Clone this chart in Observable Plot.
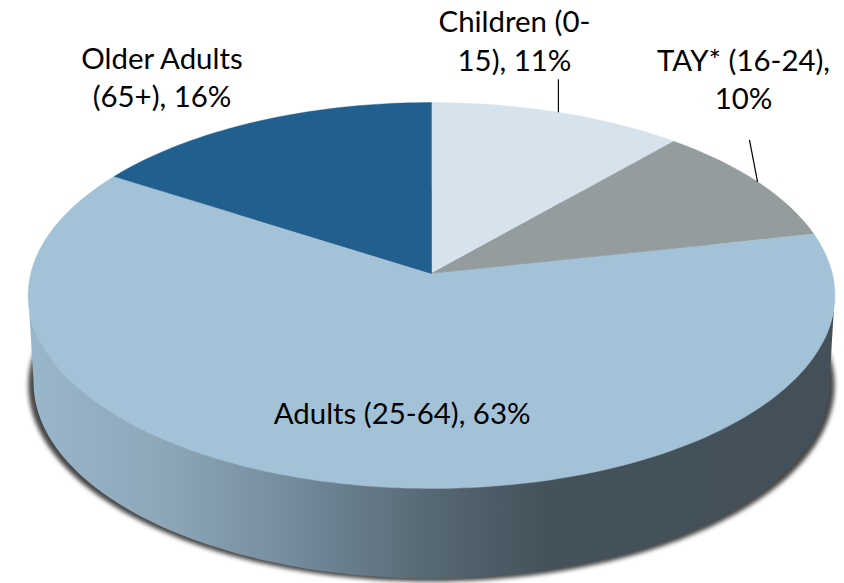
<!DOCTYPE html>
<html>
<head>
<meta charset="utf-8">
<style>html,body{margin:0;padding:0;background:#fff;overflow:hidden}svg{display:block}</style>
<script src="https://cdn.jsdelivr.net/npm/d3@7"></script>
<script src="https://cdn.jsdelivr.net/npm/@observablehq/plot@0.6"></script>
</head>
<body>
<div id="chart"></div>
<script>
// Data, clockwise from 12 o'clock
const categories = ["Children (0-15)", "TAY* (16-24)", "Adults (25-64)", "Older Adults (65+)"];
const shares = [11.4, 10.2, 62.5, 15.9];
const labelLines = ["Children (0-\n15), {}%", "TAY* (16-24),\n{}%", "Adults (25-64), {}%", "Older Adults\n(65+), {}%"];
const sliceColors = ["#d7e3ec", "#959c9e", "#a4c2d7", "#215f8f"];

// Label placement relative to each slice's mid-rim point (px)
const labelDx = [-44, -14, 51, -95];
const labelDy = [-73, -104, -73, -46];
// Leader lines (chart units from the mid-rim point; 0 = no leader)
const leaderDx = [0, -0.02, 0, 0];
const leaderDy = [0.0817, 0.104, 0, 0];

// Tilted-disc projection, in units of the disc's half width
const persp = 0.114, xScale = 0.992, yScale = 0.4715;
const project = (angle) => {
  const u = Math.sin(angle), v = Math.cos(angle), w = 1 + persp * v;
  return {x: xScale * u / w, y: yScale * v / w};
};
const turn = (pct) => pct / 100 * 2 * Math.PI;

let running = 0;
const slices = categories.map((category, i) => {
  const start = running, end = running + shares[i];
  running = end;
  return {category, i, start, end, mid: (start + end) / 2};
});

const slicePoints = slices.flatMap((s) => {
  const n = Math.max(2, Math.ceil((s.end - s.start) * 3));
  const rim = d3.range(n + 1).map((k) => project(turn(s.start + (s.end - s.start) * k / n)));
  return [{x: 0, y: 0}, ...rim, {x: 0, y: 0}].map((p) => ({...p, category: s.category}));
});

const midRim = slices.map((s) => ({...project(turn(s.mid)), i: s.i}));

// Cylinder wall: lower half of the top rim and of the base rim
const topCy = -0.0545, topRy = 0.4777;
const baseCy = -0.2698, baseRy = 0.4851, baseRx = 0.985;
const halfArc = (rx, cy, ry, reverse) => {
  const ts = d3.range(0, 121).map((k) => Math.PI + k / 120 * Math.PI);
  const pts = ts.map((t) => ({x: rx * Math.cos(t), y: cy + ry * Math.sin(t)}));
  return reverse ? pts.reverse() : pts;
};
const wall = [...halfArc(0.998, topCy, topRy, false), ...halfArc(baseRx, baseCy, baseRy, true)];
const shadow = d3.range(0, 181).map((k) => {
  const t = k / 180 * 2 * Math.PI;
  return {x: 0.998 * Math.cos(t), y: -0.2765 + 0.486 * Math.sin(t)};
});

const pxPerUnit = 404, cxPx = 431, cyPx = 273, W = 844, H = 583;

const gradient = () => {
  const defs = d3.create("svg:defs");
  const g = defs.append("linearGradient").attr("id", "wallGrad")
    .attr("x1", 0).attr("x2", 1).attr("y1", 0).attr("y2", 0);
  [[0, "#9ab6ca"], [0.16, "#8ea8ba"], [0.34, "#72899a"], [0.5, "#566873"], [0.64, "#44525b"], [1, "#43505a"]]
    .forEach(([o, c]) => g.append("stop").attr("offset", o).attr("stop-color", c));
  return defs.node();
};

const chart = Plot.plot({
  width: W,
  height: H,
  margin: 0,
  style: {background: "#fff"},
  x: {domain: [-cxPx / pxPerUnit, (W - cxPx) / pxPerUnit], range: [0, W], axis: null},
  y: {domain: [-(H - cyPx) / pxPerUnit, cyPx / pxPerUnit], range: [H, 0], axis: null},
  color: {domain: categories, range: sliceColors},
  marks: [
    gradient,
    Plot.line(shadow, {x: "x", y: "y", fill: "#333", fillOpacity: 0.9, stroke: "none", imageFilter: "blur(2.2px)"}),
    Plot.line(wall, {x: "x", y: "y", fill: "url(#wallGrad)", stroke: "none"}),
    Plot.line(slicePoints, {x: "x", y: "y", z: "category", fill: "category", stroke: "category", strokeWidth: 0.4}),
    Plot.link(midRim.filter((d) => leaderDy[d.i] > 0), {
      x1: "x", y1: "y",
      x2: (d) => d.x + leaderDx[d.i],
      y2: (d) => d.y + leaderDy[d.i],
      stroke: "#000", strokeWidth: 1.2
    }),
    ...midRim.map((d) => Plot.text([d], {
      x: "x", y: "y",
      text: () => labelLines[d.i].replace("{}", Math.round(shares[d.i])),
      dx: labelDx[d.i], dy: labelDy[d.i],
      fontFamily: "Lato", fontSize: 29.4, lineHeight: 1.3, fill: "#000", textAnchor: "middle"
    }))
  ]
});
document.getElementById("chart").append(chart);
</script>
</body>
</html>
